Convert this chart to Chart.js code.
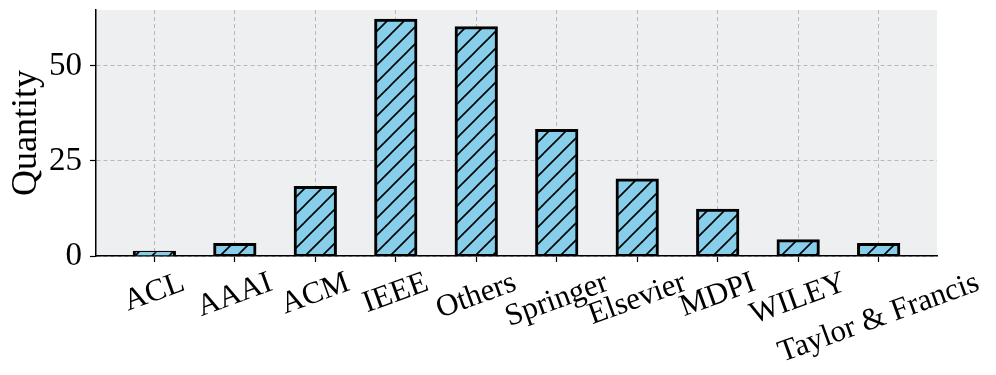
<!DOCTYPE html>
<html>
<head>
<meta charset="utf-8">
<script src="https://cdn.jsdelivr.net/npm/chart.js@4.4.0/dist/chart.umd.min.js"></script>
<style>
    html, body { margin: 0; padding: 0; background: #ffffff; }
    #bar-chart { display: block; }
</style>
</head>
<body>
<canvas id="bar-chart" width="996" height="375"></canvas>
<script>
const publishers = ["ACL", "AAAI", "ACM", "IEEE", "Others", "Springer", "Elsevier", "MDPI", "WILEY", "Taylor & Francis"];
const quantities = [1, 3, 18, 62, 60, 33, 20, 12, 4, 3];
const yTickValues = [0, 25, 50];

const SERIF = "'Liberation Serif', 'Times New Roman', serif";

// diagonal "//" hatch over sky blue, like matplotlib's hatch
function makeHatch(size) {
    const tile = document.createElement("canvas");
    tile.width = size;
    tile.height = size;
    const g = tile.getContext("2d");
    g.fillStyle = "#87ceeb";
    g.fillRect(0, 0, size, size);
    g.strokeStyle = "#000000";
    g.lineWidth = 1.6;
    g.beginPath();
    g.moveTo(-2, size + 2);
    g.lineTo(size + 2, -2);
    g.moveTo(-2, 2);
    g.lineTo(2, -2);
    g.moveTo(size - 2, size + 2);
    g.lineTo(size + 2, size - 2);
    g.stroke();
    return g.createPattern(tile, "repeat");
}

const plotBackground = {
    id: "plotBackground",
    beforeDraw(chart) {
        const { ctx, chartArea } = chart;
        ctx.save();
        ctx.fillStyle = "#ffffff";
        ctx.fillRect(0, 0, chart.width, chart.height);
        ctx.fillStyle = "#eeeff1";
        ctx.fillRect(chartArea.left, chartArea.top, chartArea.right - chartArea.left, chartArea.bottom - chartArea.top);
        ctx.restore();
    },
};

// rotated x labels centred on their ticks (Chart.js would right-align them)
const rotatedLabels = {
    id: "rotatedLabels",
    afterDraw(chart) {
        const { ctx } = chart;
        const xScale = chart.scales.x;
        const angle = (20 * Math.PI) / 180;
        const top = chart.chartArea.bottom + 10;
        const h = 34;
        ctx.save();
        ctx.font = "31px " + SERIF;
        ctx.fillStyle = "#000000";
        ctx.textAlign = "center";
        ctx.textBaseline = "middle";
        publishers.forEach((label, i) => {
            const w = ctx.measureText(label).width;
            const boxH = w * Math.sin(angle) + h * Math.cos(angle);
            const cx = xScale.getPixelForValue(i);
            const cy = top + boxH / 2;
            ctx.save();
            ctx.translate(cx, cy);
            ctx.rotate(-angle);
            ctx.fillText(label, 0, 0);
            ctx.restore();
        });
        ctx.restore();
    },
};

document.addEventListener("DOMContentLoaded", () => {
    const $barChart = document.querySelector("#bar-chart");

    new Chart($barChart, {
        type: "bar",
        data: {
            datasets: [
                {
                    label: "Quantity",
                    data: quantities.map((v, i) => ({ x: i, y: v })),
                    backgroundColor: makeHatch(17),
                    borderColor: "#000000",
                    borderWidth: 3,
                    borderSkipped: false,
                    inflateAmount: 1.5,
                    barPercentage: 0.5,
                    categoryPercentage: 1,
                },
            ],
        },
        options: {
            responsive: false,
            animation: false,
            devicePixelRatio: 1,
            layout: {
                padding: { top: 10, right: 59, left: 0, bottom: 0 },
            },
            plugins: {
                legend: { display: false },
                tooltip: { enabled: false },
            },
            scales: {
                x: {
                    type: "linear",
                    min: -0.725,
                    max: 9.725,
                    offset: false,
                    afterBuildTicks: (scale) => {
                        scale.ticks = publishers.map((_, i) => ({ value: i }));
                    },
                    afterFit: (scale) => {
                        scale.height = 119;
                        scale.paddingLeft = 0;
                        scale.paddingRight = 0;
                    },
                    ticks: { display: false },
                    grid: {
                        offset: false,
                        color: "rgba(170, 170, 175, 0.8)",
                        lineWidth: 1,
                        drawTicks: true,
                        tickLength: 6,
                        tickColor: "#000000",
                        tickWidth: 1.2,
                    },
                    border: {
                        display: true,
                        color: "#000000",
                        width: 1.5,
                        dash: [4, 3],
                    },
                },
                y: {
                    min: 0,
                    max: 64.7,
                    afterBuildTicks: (scale) => {
                        scale.ticks = yTickValues.map((v) => ({ value: v }));
                    },
                    afterFit: (scale) => {
                        scale.width = 96;
                        scale.paddingTop = 0;
                        scale.paddingBottom = 0;
                    },
                    ticks: {
                        color: "#000000",
                        padding: 8,
                        font: { family: SERIF, size: 33 },
                    },
                    title: {
                        display: true,
                        text: "Quantity",
                        color: "#000000",
                        padding: { top: 5, bottom: 0 },
                        font: { family: SERIF, size: 36 },
                    },
                    grid: {
                        color: "rgba(170, 170, 175, 0.8)",
                        lineWidth: 1,
                        drawTicks: true,
                        tickLength: 6,
                        tickColor: "#000000",
                        tickWidth: 1.2,
                    },
                    border: {
                        display: true,
                        color: "#000000",
                        width: 1.5,
                        dash: [4, 3],
                    },
                },
            },
        },
        plugins: [plotBackground, rotatedLabels],
    });
});
</script>
</body>
</html>
